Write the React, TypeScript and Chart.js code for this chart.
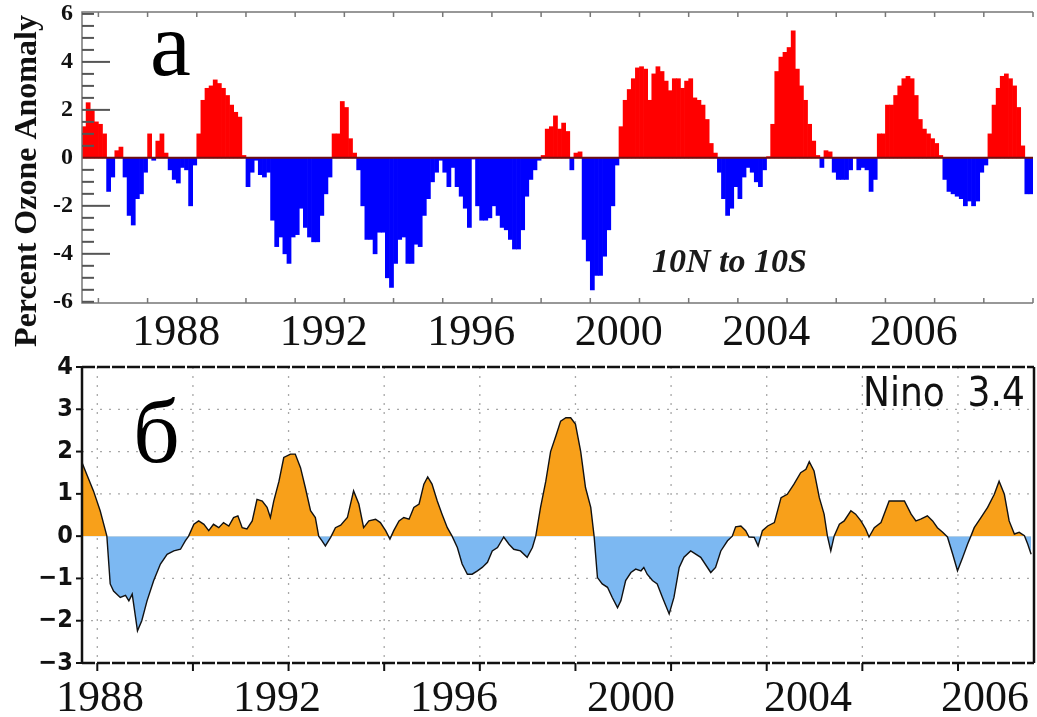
import React, { useEffect, useRef } from "react";
import { Chart, registerables } from "chart.js";

Chart.register(...registerables);

// ---------- DATA ----------
// Panel a: monthly percent ozone anomaly, 10N to 10S, starting September 1987
const OZONE_START_YEAR = 1987;
const OZONE_START_MONTH = 9;
const OZONE_ANOMALY = [
  1.3, 2.3, 2.0, 1.5, 1.4, 1.0, -1.4, -0.8, 0.3, 0.45, -0.8, -2.4,
  -2.8, -1.7, -1.5, -0.6, 1.0, -0.1, 0.7, 1.0, 0.2, -0.5, -0.9, -1.05,
  -0.4, -0.5, -2.0, -0.3, 1.0, 2.4, 2.9, 3.0, 3.25, 3.1, 2.9, 2.6,
  2.2, 1.9, 1.7, 0.1, -1.2, -0.6, -0.1, -0.7, -0.8, -0.6, -2.6, -3.7,
  -3.3, -4.0, -4.4, -3.3, -3.2, -2.1, -2.9, -3.3, -3.5, -3.5, -2.4, -1.5,
  -0.8, 1.0, 1.0, 2.35, 2.1, 0.8, 0.2, -0.5, -2.0, -3.4, -3.4, -4.0,
  -3.1, -3.1, -5.0, -5.4, -4.4, -3.4, -3.3, -4.4, -4.4, -3.6, -3.7, -2.4,
  -1.7, -1.0, -0.6, -0.1, -0.6, -1.2, -0.4, -1.2, -1.6, -2.1, -2.9, -0.05,
  -2.0, -2.6, -2.6, -2.5, -2.0, -2.4, -2.9, -3.0, -3.4, -3.8, -3.8, -3.0,
  -1.6, -0.9, -0.5, -0.1, 0.1, 1.2, 1.3, 1.75, 1.2, 1.45, 1.1, -0.5,
  0.2, 0.25, -3.4, -4.3, -5.5, -4.9, -4.9, -4.1, -3.0, -2.0, -0.3, 1.3,
  2.4, 2.85, 3.3, 3.75, 3.8, 3.7, 2.4, 3.5, 3.8, 3.6, 3.2, 2.8,
  3.3, 3.3, 2.9, 3.2, 3.3, 2.5, 2.4, 2.2, 1.6, 0.6, 0.2, -0.6,
  -1.7, -2.4, -2.1, -1.2, -1.7, -0.8, -0.4, -0.6, -1.0, -1.2, -0.5, 0.05,
  1.4, 3.6, 4.2, 4.4, 4.6, 5.3, 3.7, 3.0, 2.4, 1.4, 0.7, 0.1,
  -0.4, 0.3, 0.25, -0.6, -0.9, -0.9, -0.9, -0.5, 0.0, -0.5, -0.4, -0.5,
  -1.4, -0.9, 1.0, 1.0, 2.2, 2.2, 2.6, 3.0, 3.3, 3.4, 3.3, 2.6,
  1.6, 1.2, 1.0, 0.8, 0.6, 0.1, -0.9, -1.4, -1.5, -1.6, -1.7, -2.0,
  -1.8, -2.0, -1.8, -0.6, -0.3, 1.0, 2.2, 2.9, 3.4, 3.5, 3.3, 3.0,
  2.1, 0.5, -1.5, -1.5,
];

// Panel б: Nino 3.4 index
const NINO_YEARS = [
  1987.68, 1987.78, 1987.92, 1988.06, 1988.17, 1988.2, 1988.27, 1988.34, 1988.48, 1988.59,
  1988.66, 1988.73, 1988.8, 1988.84, 1988.93, 1989.04, 1989.18, 1989.32, 1989.46, 1989.6,
  1989.74, 1989.84, 1989.91, 1990.02, 1990.12, 1990.23, 1990.33, 1990.43, 1990.54, 1990.64,
  1990.75, 1990.85, 1990.94, 1991.03, 1991.13, 1991.24, 1991.34, 1991.45, 1991.55, 1991.62,
  1991.69, 1991.8, 1991.9, 1992.04, 1992.14, 1992.25, 1992.35, 1992.46, 1992.56, 1992.63,
  1992.7, 1992.77, 1992.88, 1992.98, 1993.09, 1993.23, 1993.36, 1993.47, 1993.57, 1993.68,
  1993.82, 1993.92, 1994.03, 1994.12, 1994.2, 1994.31, 1994.41, 1994.52, 1994.62, 1994.73,
  1994.83, 1994.91, 1995.0, 1995.11, 1995.21, 1995.32, 1995.42, 1995.53, 1995.63, 1995.74,
  1995.84, 1995.95, 1996.05, 1996.16, 1996.26, 1996.37, 1996.5, 1996.61, 1996.71, 1996.85,
  1996.99, 1997.1, 1997.17, 1997.27, 1997.38, 1997.48, 1997.59, 1997.69, 1997.8, 1997.9,
  1998.0, 1998.11, 1998.21, 1998.32, 1998.39, 1998.46, 1998.56, 1998.67, 1998.77, 1998.88,
  1998.95, 1999.05, 1999.16, 1999.26, 1999.37, 1999.43, 1999.5, 1999.61, 1999.71, 1999.82,
  1999.96, 2000.06, 2000.17, 2000.27, 2000.41, 2000.62, 2000.83, 2000.93, 2001.04, 2001.18,
  2001.28, 2001.35, 2001.46, 2001.56, 2001.63, 2001.74, 2001.82, 2001.91, 2002.02, 2002.16,
  2002.3, 2002.43, 2002.57, 2002.71, 2002.82, 2002.89, 2002.99, 2003.1, 2003.2, 2003.27,
  2003.34, 2003.41, 2003.52, 2003.62, 2003.76, 2003.86, 2003.97, 2004.07, 2004.14, 2004.25,
  2004.39, 2004.56, 2004.74, 2004.88, 2005.02, 2005.12, 2005.22, 2005.36, 2005.47, 2005.57,
  2005.68, 2005.78, 2005.89, 2005.99, 2006.1, 2006.2, 2006.27, 2006.34, 2006.48, 2006.62,
  2006.76, 2006.86, 2006.97, 2007.07, 2007.18, 2007.28, 2007.39, 2007.46, 2007.53,
];
const NINO_VALUES = [
  1.74, 1.46, 1.07, 0.6, 0.13, 0.0, -1.13, -1.3, -1.45, -1.4,
  -1.53, -1.37, -1.92, -2.24, -2.0, -1.53, -1.05, -0.66, -0.43, -0.35,
  -0.31, -0.11, 0.0, 0.28, 0.36, 0.28, 0.13, 0.28, 0.2, 0.32,
  0.24, 0.44, 0.48, 0.2, 0.17, 0.36, 0.87, 0.83, 0.68, 0.44,
  0.83, 1.3, 1.86, 1.94, 1.94, 1.62, 1.15, 0.6, 0.44, 0.0,
  -0.11, -0.23, -0.03, 0.2, 0.26, 0.44, 1.07, 0.76, 0.2, 0.36,
  0.4, 0.32, 0.13, -0.07, 0.13, 0.36, 0.44, 0.4, 0.68, 0.76,
  1.23, 1.4, 1.23, 0.83, 0.52, 0.2, 0.0, -0.27, -0.66, -0.9,
  -0.9, -0.82, -0.74, -0.62, -0.35, -0.27, -0.02, -0.19, -0.31, -0.35,
  -0.5, -0.27, 0.0, 0.68, 1.3, 2.0, 2.37, 2.72, 2.8, 2.8,
  2.65, 2.0, 1.15, 0.68, 0.0, -0.98, -1.13, -1.21, -1.45, -1.69,
  -1.53, -1.05, -0.86, -0.78, -0.82, -0.74, -0.9, -1.05, -1.13, -1.45,
  -1.84, -1.45, -0.74, -0.5, -0.35, -0.5, -0.86, -0.74, -0.35, -0.11,
  0.0, 0.22, 0.24, 0.13, -0.02, -0.03, -0.23, 0.13, 0.24, 0.32,
  0.91, 0.99, 1.23, 1.5, 1.58, 1.76, 1.54, 0.91, 0.52, 0.0,
  -0.35, 0.0, 0.28, 0.36, 0.6, 0.52, 0.36, 0.17, -0.02, 0.2,
  0.32, 0.83, 0.83, 0.83, 0.52, 0.36, 0.4, 0.48, 0.36, 0.2,
  0.09, -0.02, -0.43, -0.82, -0.5, -0.19, 0.0, 0.2, 0.44, 0.68,
  0.99, 1.3, 0.99, 0.36, 0.05, 0.09, 0.01, -0.19, -0.43,
];

const TICK_LABELS = ["1988", "1992", "1996", "2000", "2004", "2006"];
const OZONE_Y_TICKS = [-6, -4, -2, 0, 2, 4, 6];
const OZONE_YEAR_TICKS = [1988, 1989, 1990, 1991, 1992, 1993, 1994, 1995, 1996, 1997, 1998, 1999, 2000, 2001, 2002, 2003, 2004, 2005, 2006, 2007];
const NINO_Y_TICKS = [-3, -2, -1, 0, 1, 2, 3, 4];
const NINO_YEAR_TICKS = [1988, 1990, 1992, 1994, 1996, 1998, 2000, 2002, 2004, 2006];
const NINO_GRID_Y = [-2, -1, 1, 2, 3];

// ---------- STYLE ----------
const SERIF = "'Liberation Serif', 'Times New Roman', serif";
const NARROW = "'Liberation Sans Narrow', 'DejaVu Sans Condensed', 'DejaVu Sans', sans-serif";
const RED = "#ff0000";
const BLUE = "#0000ff";
const ORANGE = "#f8a01a";
const LIGHTBLUE = "#7cb8f2";

const ozoneDecor = {
  id: "ozoneDecor",
  afterDatasetsDraw(chart: any) {
    const { ctx, chartArea: a, scales } = chart;
    const x = scales.x;
    const y = scales.y;
    ctx.save();
    const y0 = y.getPixelForValue(0);
    ctx.strokeStyle = "#6e1010";
    ctx.lineWidth = 2;
    ctx.beginPath();
    ctx.moveTo(a.left, y0);
    ctx.lineTo(a.right, y0);
    ctx.stroke();
    ctx.strokeStyle = "#777";
    ctx.lineWidth = 1.5;
    ctx.beginPath();
    ctx.moveTo(a.right, a.top);
    ctx.lineTo(a.left, a.top);
    ctx.lineTo(a.left, a.bottom);
    ctx.lineTo(a.right, a.bottom);
    ctx.stroke();
    OZONE_YEAR_TICKS.forEach((yr) => {
      const px = x.getPixelForValue(yr);
      ctx.beginPath();
      ctx.moveTo(px, a.top);
      ctx.lineTo(px, a.top + 5);
      ctx.moveTo(px, a.bottom);
      ctx.lineTo(px, a.bottom - 5);
      ctx.stroke();
    });
    ctx.strokeStyle = "#555";
    ctx.lineWidth = 2;
    for (let i = -12; i <= 12; i++) {
      const v = i / 2;
      if (v === 0) continue;
      const py = y.getPixelForValue(v);
      const major = Math.abs(v) === 2 || Math.abs(v) === 4;
      ctx.beginPath();
      ctx.moveTo(a.left, py);
      ctx.lineTo(a.left + (major ? 28 : 12), py);
      ctx.stroke();
    }
    ctx.fillStyle = "#000";
    ctx.font = `92px ${SERIF}`;
    ctx.textAlign = "left";
    ctx.textBaseline = "alphabetic";
    ctx.fillText("a", 150, 75);
    ctx.fillStyle = "#1a1a1a";
    ctx.font = `italic bold 34px ${SERIF}`;
    ctx.fillText("10N to 10S", 652, 272);
    ctx.save();
    ctx.translate(36, 181);
    ctx.rotate(-Math.PI / 2);
    ctx.textAlign = "center";
    ctx.fillStyle = "#111";
    ctx.font = `bold 32px ${SERIF}`;
    ctx.fillText("Percent Ozone Anomaly", 0, 0);
    ctx.restore();
    ctx.restore();
  },
};

const ninoGrid = {
  id: "ninoGrid",
  beforeDatasetsDraw(chart: any) {
    const { ctx, chartArea: a, scales } = chart;
    ctx.save();
    ctx.strokeStyle = "#a8a8a8";
    ctx.lineWidth = 1.3;
    ctx.setLineDash([2, 7]);
    NINO_YEAR_TICKS.forEach((yr) => {
      const px = scales.x.getPixelForValue(yr);
      ctx.beginPath();
      ctx.moveTo(px, a.top);
      ctx.lineTo(px, a.bottom);
      ctx.stroke();
    });
    NINO_GRID_Y.forEach((v) => {
      const py = scales.y.getPixelForValue(v);
      ctx.beginPath();
      ctx.moveTo(a.left, py);
      ctx.lineTo(a.right, py);
      ctx.stroke();
    });
    ctx.restore();
  },
  afterDatasetsDraw(chart: any) {
    const { ctx, chartArea: a, scales } = chart;
    ctx.save();
    ctx.strokeStyle = "#111";
    ctx.lineWidth = 2.5;
    ctx.beginPath();
    ctx.moveTo(a.left, a.top);
    ctx.lineTo(a.left, a.bottom);
    ctx.moveTo(a.right, a.top);
    ctx.lineTo(a.right, a.bottom);
    ctx.stroke();
    ctx.setLineDash([13, 2]);
    ctx.beginPath();
    ctx.moveTo(a.left, a.top);
    ctx.lineTo(a.right, a.top);
    ctx.moveTo(a.left, a.bottom);
    ctx.lineTo(a.right, a.bottom);
    ctx.stroke();
    ctx.setLineDash([]);
    ctx.lineWidth = 2;
    NINO_YEAR_TICKS.forEach((yr) => {
      const px = scales.x.getPixelForValue(yr);
      ctx.beginPath();
      ctx.moveTo(px, a.bottom);
      ctx.lineTo(px, a.bottom + 8);
      ctx.stroke();
    });
    NINO_Y_TICKS.forEach((v) => {
      const py = scales.y.getPixelForValue(v);
      ctx.beginPath();
      ctx.moveTo(a.left - 6, py);
      ctx.lineTo(a.left, py);
      ctx.stroke();
    });
    ctx.fillStyle = "#000";
    ctx.textAlign = "left";
    ctx.textBaseline = "alphabetic";
    ctx.font = `92px ${SERIF}`;
    ctx.fillText("б", 133, 107);
    ctx.fillStyle = "#111";
    ctx.font = `40px ${NARROW}`;
    ctx.fillText("Nino  3.4", 863, 51);
    ctx.restore();
  },
};

function labelRail(right: number, height: number, padding: number) {
  return {
    type: "linear",
    position: "bottom",
    min: -(100 - 82) / 177,
    max: (right - 100) / 177,
    grid: { display: false, drawTicks: false },
    border: { display: false },
    afterBuildTicks: (s: any) => {
      s.ticks = TICK_LABELS.map((_, i) => ({ value: i }));
    },
    afterFit: (s: any) => {
      s.height = height;
      s.paddingLeft = 0;
      s.paddingRight = 0;
    },
    ticks: {
      autoSkip: false,
      maxRotation: 0,
      minRotation: 0,
      padding,
      color: "#111",
      font: { family: SERIF, size: 44, lineHeight: 1 },
      callback: (_v: any, i: number) => TICK_LABELS[i],
    },
  };
}

function fixedY(min: number, max: number, ticks: number[], font: any, fmt: (v: number) => string) {
  return {
    min,
    max,
    grid: { display: false, drawTicks: false },
    border: { display: false },
    afterBuildTicks: (s: any) => {
      s.ticks = ticks.map((v) => ({ value: v }));
    },
    afterFit: (s: any) => {
      s.width = 82;
      s.paddingTop = 0;
      s.paddingBottom = 0;
    },
    ticks: { padding: 9, color: "#111", font, callback: (v: any) => fmt(v) },
  };
}

export default function App() {
  const topRef = useRef<HTMLCanvasElement>(null);
  const botRef = useRef<HTMLCanvasElement>(null);

  useEffect(() => {
    const ozonePoints = OZONE_ANOMALY.map((v, i) => ({
      x: OZONE_START_YEAR + (OZONE_START_MONTH - 1 + i + 0.5) / 12,
      y: v,
    }));
    const top = new Chart(topRef.current as HTMLCanvasElement, {
      type: "bar",
      data: {
        datasets: [
          {
            data: ozonePoints,
            backgroundColor: (c: any) => ((c.raw && c.raw.y >= 0) ? RED : BLUE),
            borderWidth: 0,
            barPercentage: 1,
            categoryPercentage: 1,
          } as any,
        ],
      },
      options: {
        animation: false,
        responsive: false,
        devicePixelRatio: 1,
        layout: { padding: { top: 12, right: 4, left: 0, bottom: 0 } },
        plugins: { legend: { display: false }, tooltip: { enabled: false } },
        scales: {
          x: {
            type: "linear",
            display: false,
            min: OZONE_START_YEAR + (OZONE_START_MONTH - 1) / 12,
            max: 2007,
            offset: false,
          },
          xl: labelRail(1033, 52, 8) as any,
          y: fixedY(-6.05, 6.08, OZONE_Y_TICKS, { family: SERIF, size: 24, weight: "bold" }, (v) => String(v)) as any,
        },
      } as any,
      plugins: [ozoneDecor],
    });

    const ninoPoints = NINO_YEARS.map((x, i) => ({ x, y: NINO_VALUES[i] }));
    const bot = new Chart(botRef.current as HTMLCanvasElement, {
      type: "line",
      data: {
        datasets: [
          {
            data: ninoPoints,
            borderColor: "#111",
            borderWidth: 1.4,
            pointRadius: 0,
            tension: 0,
            fill: { target: { value: 0 }, above: ORANGE, below: LIGHTBLUE },
          } as any,
        ],
      },
      options: {
        animation: false,
        responsive: false,
        devicePixelRatio: 1,
        layout: { padding: { top: 12, right: 3, left: 0, bottom: 0 } },
        plugins: { legend: { display: false }, tooltip: { enabled: false } },
        scales: {
          x: { type: "linear", display: false, min: 1987.68, max: 2007.59 },
          xl: labelRail(1034, 54, 14) as any,
          y: fixedY(-3, 4, NINO_Y_TICKS, { family: NARROW, size: 25, weight: "bold" }, (v) =>
            v < 0 ? "\u2212" + Math.abs(v) : String(v)
          ) as any,
        },
      } as any,
      plugins: [ninoGrid],
    });

    return () => {
      top.destroy();
      bot.destroy();
    };
  }, []);

  return (
    <div style={{ position: "absolute", left: 0, top: 0, width: 1037, height: 717, background: "#fff", overflow: "hidden" }}>
      <canvas ref={topRef} width={1037} height={355} style={{ position: "absolute", left: 0, top: 0, width: 1037, height: 355 }} />
      <canvas ref={botRef} width={1037} height={362} style={{ position: "absolute", left: 0, top: 355, width: 1037, height: 362 }} />
    </div>
  );
}
